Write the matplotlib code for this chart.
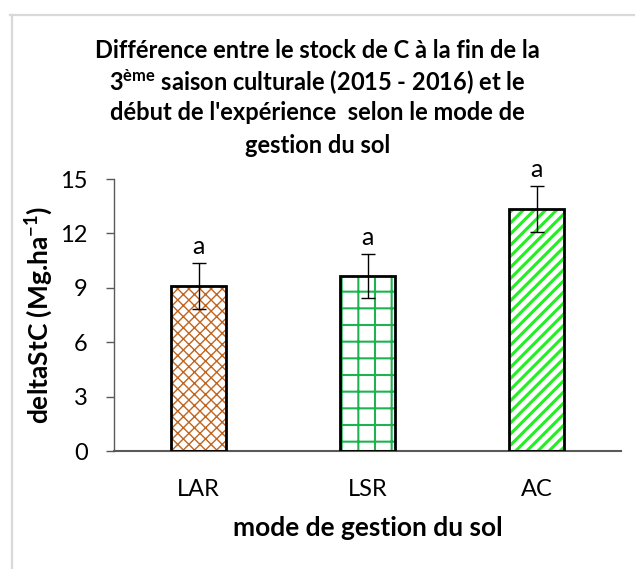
import matplotlib
matplotlib.use("Agg")
import matplotlib.pyplot as plt
from matplotlib.lines import Line2D
import numpy as np

categories = ["LAR", "LSR", "AC"]
means = [9.1, 9.65, 13.35]
errors = [1.25, 1.2, 1.25]
letters = ["a", "a", "a"]
yticks = [0, 3, 6, 9, 12, 15]

title_lines = [
    "Différence entre le stock de C à la fin de la",
    r"3$^{\mathrm{ème}}$ saison culturale (2015 - 2016) et le",
    "début de l'expérience  selon le mode de",
    "gestion du sol",
]

plt.rcParams['font.family'] = ['Lato', 'DejaVu Sans']
plt.rcParams['mathtext.fontset'] = 'custom'
plt.rcParams['mathtext.rm'] = 'Lato:bold'
plt.rcParams['mathtext.it'] = 'Lato:bold'
plt.rcParams['mathtext.bf'] = 'Lato:bold'

W, H = 635, 569
fig = plt.figure(figsize=(W / 100, H / 100), dpi=100)
ax = fig.add_axes([114 / W, 1 - 451 / H, (621 - 114) / W, (451 - 179) / H])

x = np.arange(len(categories))
width = 0.32
hatch_styles = ["xxx", "+", "///"]
hatch_colors = ["#c0651f", "#1fb350", "#22ee22"]
hatch_lw = [1.0, 1.5, 2.2]

for i in range(len(categories)):
    with plt.rc_context({'hatch.linewidth': hatch_lw[i]}):
        b = ax.bar(x[i], means[i], width, color="white", edgecolor=hatch_colors[i],
                   hatch=hatch_styles[i], linewidth=0, zorder=2)
        for p in b:
            if hasattr(p, "set_hatch_linewidth"):
                p.set_hatch_linewidth(hatch_lw[i])
    ax.bar(x[i], means[i], width, fill=False, edgecolor="black", linewidth=2, zorder=3)

ax.errorbar(x, means, yerr=errors, fmt="none", ecolor="black", elinewidth=1,
            capsize=5, capthick=1, zorder=4)

for i in range(len(categories)):
    ax.annotate(letters[i], (x[i], means[i] + errors[i]), xytext=(0, 4),
                textcoords="offset points", ha="center", va="bottom", fontsize=18)

ax.set_xlim(-0.5, len(categories) - 0.5)
ax.set_ylim(0, 15)
ax.set_yticks(yticks)
ax.set_yticklabels([str(t) for t in yticks], fontsize=17)
ax.set_xticks(x)
ax.set_xticklabels(categories, fontsize=17)
ax.tick_params(axis="x", length=0, pad=20)
ax.tick_params(axis="y", length=6, width=1, color="#595959", pad=13)
for s in ["top", "right"]:
    ax.spines[s].set_visible(False)
ax.spines["left"].set_color("#595959")
ax.spines["bottom"].set_color("#595959")
ax.spines["left"].set_linewidth(1)
ax.spines["bottom"].set_linewidth(1.5)

ax.set_xlabel("mode de gestion du sol", fontsize=19, fontweight="bold", labelpad=12)
ax.set_ylabel(r"deltaStC (Mg.ha$^{\mathrm{-1}}$)", fontsize=19, fontweight="bold", labelpad=4)

title_y = [50, 82, 113, 146]
for line, yy in zip(title_lines, title_y):
    fig.text(0.5, 1 - yy / H, line, ha="center", va="center", fontsize=17, fontweight="bold")

fig.add_artist(Line2D([10 / W, 1], [1 - 15 / H, 1 - 15 / H], color="#d9d9d9", lw=1.6))
fig.add_artist(Line2D([12 / W, 12 / W], [0, 1 - 15 / H], color="#d9d9d9", lw=1.6))

fig.savefig("out.png", dpi=100)
